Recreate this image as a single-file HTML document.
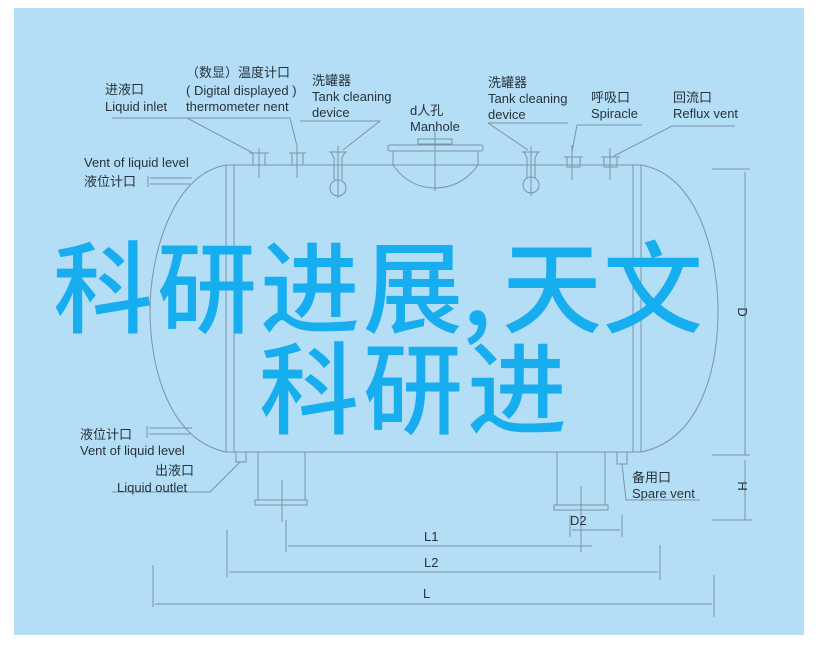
<!DOCTYPE html>
<html><head><meta charset="utf-8"><style>
html,body{margin:0;padding:0;background:#fff;}
svg{display:block;}
.t{font-family:"Liberation Sans","Noto Sans CJK SC",sans-serif;font-size:13px;fill:#26323c;}
.b{font-family:"Noto Sans CJK SC","WenQuanYi Zen Hei",sans-serif;font-size:100px;font-weight:500;fill:#17aef0;}
</style></head><body>
<svg width="827" height="647" viewBox="0 0 827 647" xmlns="http://www.w3.org/2000/svg">
<rect x="0" y="0" width="827" height="647" fill="#fff"/>
<rect x="14" y="8" width="790" height="627" fill="#b4def5"/>
<g fill="none" stroke="#7b93a6" stroke-width="1">
<!-- tank body -->
<path d="M226 165 L641 165"/>
<path d="M226 452 L641 452"/>
<path d="M226 165 C170 175 150 260 150 310 C150 370 170 440 226 452"/>
<path d="M641 165 C700 175 718 260 718 310 C718 370 700 440 641 452"/>
<path d="M226 165 V452 M234 165 V452 M633 165 V452 M641 165 V452"/>
<!-- liquid inlet -->
<rect x="253" y="153" width="12" height="12"/><path d="M259 148 V178 M249 153 H269"/>
<path d="M112 118 H187 L253 153"/>
<!-- thermometer -->
<rect x="292" y="153" width="11" height="12"/><path d="M297 146 V178 M289 153 H306"/>
<path d="M188 118 H290 L297 146"/>
<!-- tank cleaning left -->
<path d="M329 152 H347 M331 152 L334 158 V180 M345 152 L342 158 V180"/>
<circle cx="338" cy="188" r="8"/><path d="M338 146 V198"/>
<path d="M300 121 H380 L343 150"/>
<!-- manhole -->
<rect x="418" y="139" width="34" height="5"/>
<rect x="388" y="145" width="95" height="6" rx="2"/>
<path d="M393 151 V165 C405 182 420 188 435 188 C450 188 466 182 478 165 V151"/>
<path d="M435 130 V191"/>
<!-- tank cleaning right -->
<path d="M522 152 H540 M524 152 L527 158 V178 M538 152 L535 158 V178"/>
<circle cx="531" cy="185" r="8"/><path d="M531 146 V196"/>
<path d="M488 123 H568 M488 123 L528 150"/>
<!-- spiracle -->
<rect x="567" y="157" width="13" height="10"/><path d="M572 145 V180 M564 157 H583"/>
<path d="M577 125 H642 M577 125 L572 152"/>
<!-- reflux -->
<rect x="604" y="157" width="13" height="10"/><path d="M610 148 V180 M601 157 H620"/>
<path d="M672 126 H735 M672 126 L614 156"/>
<!-- vent liquid level top -->
<path d="M148 176 V187 M150 178 H192 M150 184 H190"/>
<!-- D dimension -->
<path d="M712 169 H750 M745 172 V455 M712 455 H750 M745 460 V520 M712 520 H752"/>
<!-- bottom vent liquid level -->
<path d="M147 426 V438 M149 428 H192 M149 434 H190"/>
<!-- liquid outlet -->
<rect x="236" y="452" width="10" height="10"/>
<path d="M240 462 L210 492 H112"/>
<!-- legs -->
<path d="M258 452 V500 M305 452 V500"/><rect x="255" y="500" width="52" height="5"/>
<path d="M282 480 V522"/>
<path d="M557 452 V505 M605 452 V505"/><rect x="554" y="505" width="54" height="5"/>
<path d="M581 486 V552"/>
<!-- spare vent -->
<rect x="617" y="452" width="10" height="12"/>
<path d="M622 464 L626 500 H700"/>
<!-- D2 -->
<path d="M570 515 V537 M622 515 V537 M572 530 H620"/>
<!-- L1 -->
<path d="M286 520 V552 M288 546 H592"/>
<!-- L2 -->
<path d="M227 530 V577 M229 572 H658 M660 545 V580"/>
<!-- L -->
<path d="M153 565 V607 M155 604 H712 M714 575 V617"/>
</g>
<!-- labels -->
<g class="t">
<text x="105" y="94">进液口</text><text x="105" y="111">Liquid inlet</text>
<text x="186" y="77">（数显）温度计口</text>
<text x="186" y="95">( Digital displayed )</text>
<text x="186" y="111">thermometer nent</text>
<text x="312" y="85">洗罐器</text><text x="312" y="101">Tank cleaning</text><text x="312" y="117">device</text>
<text x="410" y="115">d人孔</text><text x="410" y="131">Manhole</text>
<text x="488" y="87">洗罐器</text><text x="488" y="103">Tank cleaning</text><text x="488" y="119">device</text>
<text x="591" y="102">呼吸口</text><text x="591" y="118">Spiracle</text>
<text x="673" y="102">回流口</text><text x="673" y="118">Reflux vent</text>
<text x="84" y="167">Vent of liquid level</text><text x="84" y="186">液位计口</text>
<text x="80" y="439">液位计口</text><text x="80" y="455">Vent of liquid level</text>
<text x="155" y="475">出液口</text><text x="117" y="492">Liquid outlet</text>
<text x="632" y="482">备用口</text><text x="632" y="498">Spare vent</text>
<text x="570" y="525">D2</text>
<text x="424" y="541">L1</text>
<text x="424" y="567">L2</text>
<text x="423" y="598">L</text>
<text transform="translate(738,312) rotate(90)" text-anchor="middle">D</text>
<text transform="translate(738,486) rotate(90)" text-anchor="middle">H</text>
</g>
<!-- big text -->
<g class="b">
<text x="53" y="325">科</text><text x="157" y="325">研</text><text x="260" y="325">进</text><text x="363" y="325">展</text>
<text x="462" y="325">,</text>
<text x="502" y="325">天</text><text x="603" y="325">文</text>
<text x="259" y="426">科</text><text x="363" y="426">研</text><text x="467" y="426">进</text>
</g>
</svg>
</body></html>
